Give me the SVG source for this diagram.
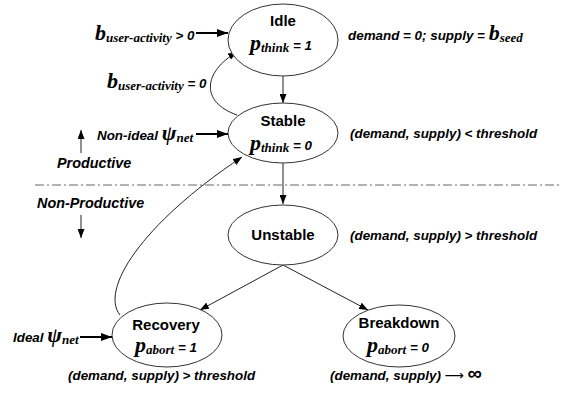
<svg xmlns="http://www.w3.org/2000/svg" width="568" height="394" viewBox="0 0 568 394">
<style>
.node{fill:#fff;stroke:#333;stroke-width:1}
.title{font-family:"Liberation Sans",Arial,sans-serif;font-weight:bold;font-size:15px;fill:#000;text-anchor:middle}
.ann{font-family:"Liberation Sans",Arial,sans-serif;font-weight:bold;font-style:italic;font-size:13.4px;fill:#000}
.side{font-size:14.4px}
.big{font-family:"Liberation Serif","Times New Roman",serif;font-weight:bold;font-style:italic;font-size:22px}
.sub{font-family:"Liberation Serif","Times New Roman",serif;font-weight:bold;font-style:italic;font-size:13px}
.edge{fill:none;stroke:#222;stroke-width:1}
.thick{fill:none;stroke:#000;stroke-width:2}
</style>
<defs>
<marker id="ah" markerWidth="9" markerHeight="7" refX="9" refY="3.5" orient="auto" markerUnits="userSpaceOnUse">
<path d="M0,0 L9,3.5 L0,7 Z" fill="#000"/>
</marker>
<marker id="ahb" markerWidth="11" markerHeight="8" refX="11" refY="4" orient="auto" markerUnits="userSpaceOnUse">
<path d="M0,0 L11,4 L0,8 Z" fill="#000"/>
</marker>
</defs>
<rect width="568" height="394" fill="#fff"/>

<line x1="35" y1="185" x2="560" y2="185" stroke="#999" stroke-width="1.5" stroke-dasharray="9 3 2 3"/>

<g id="connectors">
<line class="edge" x1="283" y1="76" x2="283" y2="103" marker-end="url(#ah)"/>
<line class="edge" x1="283" y1="163" x2="283" y2="204" marker-end="url(#ah)"/>
<line class="edge" x1="283" y1="265" x2="200" y2="310" marker-end="url(#ah)"/>
<line class="edge" x1="283" y1="265" x2="368" y2="310" marker-end="url(#ah)"/>
<path class="edge" d="M120,315 C100,290 140,225 242,157" marker-end="url(#ah)"/>
<path class="edge" d="M237,115 C200,102 203,72 237,52" marker-end="url(#ah)"/>
<line class="thick" x1="196" y1="33" x2="228" y2="33" marker-end="url(#ahb)"/>
<line class="thick" x1="196" y1="134" x2="228" y2="134" marker-end="url(#ahb)"/>
<line class="thick" x1="80" y1="337" x2="112" y2="337" marker-end="url(#ahb)"/>
<line class="edge" x1="81" y1="153" x2="81" y2="130" marker-end="url(#ah)"/>
<line class="edge" x1="81" y1="215" x2="81" y2="238" marker-end="url(#ah)"/>
</g>

<g id="idle">
<ellipse class="node" cx="283" cy="40" rx="55" ry="36"/>
<text class="title" x="283" y="26">Idle</text>
<text class="ann" x="250" y="50"><tspan class="big">p</tspan><tspan class="sub" dy="2">think</tspan><tspan dy="-2"> = 1</tspan></text>
</g>

<g id="stable">
<ellipse class="node" cx="283" cy="133" rx="55" ry="30"/>
<text class="title" x="283" y="126">Stable</text>
<text class="ann" x="250" y="150"><tspan class="big">p</tspan><tspan class="sub" dy="2">think</tspan><tspan dy="-2"> = 0</tspan></text>
</g>

<g id="unstable">
<ellipse class="node" cx="283" cy="235" rx="55" ry="30"/>
<text class="title" x="283" y="240">Unstable</text>
</g>

<g id="recovery">
<ellipse class="node" cx="167" cy="335" rx="55" ry="32"/>
<text class="title" x="166" y="330">Recovery</text>
<text class="ann" x="135" y="352"><tspan class="big">p</tspan><tspan class="sub" dy="2">abort</tspan><tspan dy="-2"> = 1</tspan></text>
</g>

<g id="breakdown">
<ellipse class="node" cx="399" cy="336" rx="56" ry="31"/>
<text class="title" x="399" y="328">Breakdown</text>
<text class="ann" x="367" y="352"><tspan class="big">p</tspan><tspan class="sub" dy="2">abort</tspan><tspan dy="-2"> = 0</tspan></text>
</g>

<g id="labels">
<text class="ann" x="95" y="40"><tspan class="big">b</tspan><tspan class="sub" dy="2">user-activity</tspan><tspan dy="-2"> &gt; 0</tspan></text>
<text class="ann" x="107" y="88"><tspan class="big">b</tspan><tspan class="sub" dy="2">user-activity</tspan><tspan dy="-2"> = 0</tspan></text>
<text class="ann" x="348" y="40">demand = 0; supply = <tspan class="big">b</tspan><tspan class="sub" dy="2">seed</tspan></text>
<text class="ann" x="97" y="140">Non-ideal <tspan class="big">ψ</tspan><tspan class="sub" dy="2">net</tspan></text>
<text class="ann side" x="57" y="168">Productive</text>
<text class="ann side" x="37" y="208">Non-Productive</text>
<text class="ann" x="350" y="138">(demand, supply) &lt; threshold</text>
<text class="ann" x="350" y="240">(demand, supply) &gt; threshold</text>
<text class="ann" x="13" y="342">Ideal <tspan class="big">ψ</tspan><tspan class="sub" dy="2">net</tspan></text>
<text class="ann" x="68" y="380">(demand, supply) &gt; threshold</text>
<text class="ann" x="330" y="380">(demand, supply) <tspan style="font-style:normal;font-weight:normal;font-family:'DejaVu Sans',sans-serif">⟶</tspan> <tspan style="font-size:20px;font-style:normal">∞</tspan></text>
</g>
</svg>
